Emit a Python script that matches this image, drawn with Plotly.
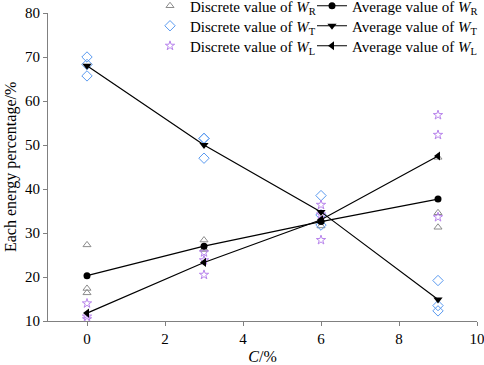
import plotly.graph_objects as go

C = [0, 3, 6, 9]

# discrete values (three samples per content)
WR_disc = [[27.3, 17.4, 16.4], [28.4, 26.3, 26.3], [31.6, 33.0, 32.9], [34.6, 31.3, 47.2]]
WT_disc = [[70.0, 65.7, 68.3], [51.5, 47.0, 51.5], [38.5, 34.1, 31.8], [19.2, 13.5, 12.3]]
WL_disc = [[14.0, 11.0, 10.4], [25.6, 20.5, 23.8], [36.4, 28.4, 34.2], [56.8, 52.3, 33.6]]

# average values
WR_avg = [20.3, 27.0, 32.6, 37.7]
WT_avg = [68.0, 50.0, 34.8, 14.9]
WL_avg = [11.8, 23.3, 33.0, 47.5]

x_ticks = [0, 2, 4, 6, 8, 10]
y_ticks = [10, 20, 30, 40, 50, 60, 70, 80]

FONT = "Liberation Serif"

W, H = 484, 365
L, R, T, B = 48, 7, 13, 44
PW, PH = W - L - R, H - T - B


def flat(disc):
    xs, ys = [], []
    for c, vals in zip(C, disc):
        for v in vals:
            xs.append(c)
            ys.append(v)
    return xs, ys


fig = go.Figure()

xr, yr = flat(WR_disc)
xt, yt = flat(WT_disc)
xl, yl = flat(WL_disc)

fig.add_trace(go.Scatter(x=xr, y=yr, mode="markers", name="Discrete value of <i>W</i><sub>R</sub>",
                         marker=dict(symbol="triangle-up-open", size=7, color="#8c8c8c", line=dict(width=1)),
                         legend="legend"))
fig.add_trace(go.Scatter(x=xt, y=yt, mode="markers", name="Discrete value of <i>W</i><sub>T</sub>",
                         marker=dict(symbol="diamond-open", size=8, color="#5a9af0", line=dict(width=1)),
                         legend="legend2"))
fig.add_trace(go.Scatter(x=xl, y=yl, mode="markers", name="Discrete value of <i>W</i><sub>L</sub>",
                         marker=dict(symbol="star-open", size=7, color="#b884ec", line=dict(width=1)),
                         legend="legend3"))

fig.add_trace(go.Scatter(x=C, y=WR_avg, mode="lines+markers", name="Average value of <i>W</i><sub>R</sub>",
                         line=dict(color="black", width=1.2),
                         marker=dict(symbol="circle", size=7, color="black"), legend="legend4"))
fig.add_trace(go.Scatter(x=C, y=WT_avg, mode="lines+markers", name="Average value of <i>W</i><sub>T</sub>",
                         line=dict(color="black", width=1.2),
                         marker=dict(symbol="triangle-down", size=8, color="black"), legend="legend5"))
fig.add_trace(go.Scatter(x=C, y=WL_avg, mode="lines+markers", name="Average value of <i>W</i><sub>L</sub>",
                         line=dict(color="black", width=1.2),
                         marker=dict(symbol="triangle-left", size=8, color="black"), legend="legend6"))

axis_common = dict(showline=True, linecolor="#808080", linewidth=1, ticks="outside", ticklen=4,
                   tickcolor="#808080", showgrid=False, zeroline=False, ticklabeloverflow="allow",
                   tickfont=dict(family=FONT, size=15, color="black"))

fig.update_xaxes(range=[-1, 10], tickvals=x_ticks, **axis_common,
                 title=dict(text="<i>C</i>/%", font=dict(family=FONT, size=16, color="black"), standoff=8))
fig.update_yaxes(range=[10, 80], tickvals=y_ticks, **axis_common)

fig.add_annotation(text="Each energy percentage/%", textangle=-90, xref="paper", yref="paper",
                   x=(11 - L) / PW, y=0.5, showarrow=False, xanchor="center", yanchor="middle",
                   font=dict(family=FONT, size=16, color="black"))


def leg(px, py):
    return dict(orientation="v", x=(px - L) / PW, xanchor="left", y=1 - (py - T) / PH, yanchor="middle",
                itemwidth=30, bgcolor="rgba(0,0,0,0)",
                font=dict(family=FONT, size=15, color="black"))


fig.update_layout(
    width=W, height=H,
    margin=dict(l=L, r=R, t=T, b=B, autoexpand=False),
    plot_bgcolor="white", paper_bgcolor="white",
    font=dict(family=FONT, color="black"),
    showlegend=True,
    legend=leg(150, 6), legend2=leg(150, 26), legend3=leg(150, 46),
    legend4=leg(312, 6), legend5=leg(312, 26), legend6=leg(312, 46),
)

fig.write_html("out.html", config={"displayModeBar": False},
               post_script="document.body.style.margin='0';")
